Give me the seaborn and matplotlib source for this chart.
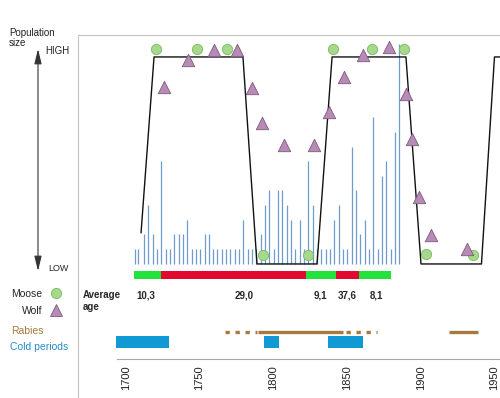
import matplotlib
matplotlib.use("Agg")
import matplotlib.pyplot as plt
import matplotlib.transforms as mtransforms
from matplotlib.lines import Line2D
import seaborn as sns

# ---- values ----
# population level: 0 = LOW, 100 = HIGH
trend_years = [1716.5, 1725.3, 1785.6, 1795.1, 1835.8, 1846.0, 1896.1, 1906.3, 1947.3, 1956.1, 1962.0]
trend_level = [15, 100, 100, 0, 0, 100, 100, 0, 0, 100, 100]

moose_years = [1726.6, 1754.4, 1774.8, 1799.2, 1829.7, 1846.6, 1873.1, 1894.8, 1909.7, 1941.6]
moose_level = [104, 104, 104, 4.3, 4.3, 104, 104, 104, 4.8, 4.3]

wolf_years = [1732.1, 1748.3, 1766.0, 1781.8, 1791.7, 1798.5, 1813.4, 1833.8, 1843.9,
              1854.1, 1867.0, 1884.6, 1896.1, 1900.2, 1905.0, 1913.1, 1937.5]
wolf_level = [85.5, 98.6, 103.4, 103.4, 85.0, 68.1, 57.5, 57.5, 73.4,
              90.3, 101.0, 104.8, 82.1, 60.4, 32.4, 14.0, 7.2]

spike_years = [1712.6, 1714.6, 1718.5, 1721.4, 1724.4, 1727.3, 1730.2, 1733.2, 1736.1, 1739.1,
               1742.0, 1745.0, 1747.9, 1750.8, 1753.8, 1756.7, 1759.6, 1762.4, 1765.3, 1768.2,
               1771.2, 1774.1, 1777.0, 1780.0, 1782.9, 1785.8, 1788.8, 1791.7, 1794.6, 1797.6,
               1800.5, 1803.5, 1806.4, 1809.4, 1812.3, 1815.3, 1818.2, 1821.1, 1824.1, 1827.0,
               1829.9, 1832.9, 1835.8, 1838.7, 1841.7, 1844.6, 1847.5, 1850.5, 1853.4, 1856.3,
               1859.3, 1862.2, 1865.2, 1868.1, 1871.1, 1874.0, 1877.0, 1879.9, 1882.8, 1885.8,
               1888.7, 1891.6]
spike_counts = [1, 1, 2, 4, 2, 1, 7, 1, 1, 2,
                2, 2, 3, 1, 1, 1, 2, 2, 1, 1,
                1, 1, 1, 1, 1, 3, 1, 1, 1, 2,
                4, 5, 1, 5, 5, 4, 3, 1, 3, 1,
                7, 4, 1, 1, 1, 1, 3, 4, 1, 1,
                8, 5, 2, 3, 1, 10, 1, 6, 7, 1,
                9, 15]

age_bounds = [1711.7, 1729.9, 1828.3, 1848.6, 1864.3, 1886.0]
age_phase = ["young", "old", "young", "old", "young"]
age_labels = ["10,3", "29,0", "9,1", "37,6", "8,1"]
age_label_years = [1719.9, 1786.3, 1838.2, 1856.1, 1876.1]

rabies_start = [1796.0, 1925.3]
rabies_end = [1853.6, 1944.7]
rabies_maybe_start = [1773.5, 1855.5]
rabies_maybe_end = [1795.1, 1876.5]

cold_start = [1699.3, 1800.1, 1843.1]
cold_end = [1735.5, 1810.0, 1866.8]

year_ticks = list(range(1700, 1960, 10))

# ---- style ----
sns.set_style("white")
plt.rcParams["font.family"] = ["Liberation Sans", "DejaVu Sans"]

MOOSE = "#a6d98b"
MOOSE_EDGE = "#7db761"
WOLF = "#b78bb6"
WOLF_EDGE = "#7d5a7c"
SPIKE = "#6d9dca"
PHASE_COL = {"young": "#22e33b", "old": "#e3082f"}
RABIES = "#a57a3c"
COLD = "#1199d5"
FRAME = "#c4c4c4"

W, H = 500, 398
fig = plt.figure(figsize=(5, 3.98), dpi=100)


def fx(px):
    return px / W


def fy(py):
    return 1 - py / H


# x range of the drawing area (years)
XMIN, XMAX = 1673.76, 1959.86

# frame: left and top grey lines
frame = fig.add_axes([fx(78), 0, 1 - fx(78), fy(35)])
frame.set_xticks([])
frame.set_yticks([])
frame.patch.set_visible(False)
for side in ["right", "bottom"]:
    frame.spines[side].set_visible(False)
for side in ["left", "top"]:
    frame.spines[side].set_color(FRAME)
    frame.spines[side].set_linewidth(0.8)

main_rect = [fx(78), fy(268.1), 1 - fx(78), (268.1 - 40.4) / H]

# spikes (counts)
ax_s = fig.add_axes(main_rect)
ax_s.set_xlim(XMIN, XMAX)
ax_s.set_ylim(-0.315, 15.28)
ax_s.axis("off")
ax_s.vlines(spike_years, 0, spike_counts, color=SPIKE, lw=0.9)

# population line and animals
ax = fig.add_axes(main_rect)
ax.set_xlim(XMIN, XMAX)
ax.set_ylim(-2, 108)
ax.axis("off")
sns.lineplot(x=trend_years, y=trend_level, sort=False, estimator=None,
             color="#111111", lw=1.0, ax=ax)
sns.scatterplot(x=moose_years, y=moose_level, marker="o", s=55, color=MOOSE,
                edgecolor=MOOSE_EDGE, linewidth=0.6, ax=ax, clip_on=False, zorder=3)
sns.scatterplot(x=wolf_years, y=wolf_level, marker="^", s=80, color=WOLF,
                edgecolor=WOLF_EDGE, linewidth=0.6, ax=ax, clip_on=False, zorder=3)

# lower strip: age classes, rabies, cold periods, year axis
low = fig.add_axes([fx(78), fy(359), 1 - fx(78), (359 - 268) / H])
low.set_xlim(XMIN, XMAX)
low.set_ylim(91, 0)
low.patch.set_visible(False)

AGE_ROW, AGE_H = 7, 8
LABEL_ROW = 27.5
RABIES_ROW = 63.5
COLD_ROW, COLD_H = 73.5, 12

starts = age_bounds[:-1]
widths = [b - a for a, b in zip(age_bounds[:-1], age_bounds[1:])]
low.barh(AGE_ROW, widths, left=starts, height=AGE_H,
         color=[PHASE_COL[p] for p in age_phase], linewidth=0)
for yr, lab in zip(age_label_years, age_labels):
    low.text(yr, LABEL_ROW, lab, ha="center", va="center", fontsize=7, fontweight="bold")

low.hlines([RABIES_ROW] * len(rabies_start), rabies_start, rabies_end, color=RABIES, lw=2.4)
low.hlines([RABIES_ROW] * len(rabies_maybe_start), rabies_maybe_start, rabies_maybe_end,
           color=RABIES, lw=2.4, linestyles=[(0, (1.3, 1.7))])

low.barh(COLD_ROW, [b - a for a, b in zip(cold_start, cold_end)], left=cold_start,
         height=COLD_H, color=COLD, linewidth=0)

for side in ["left", "right", "top"]:
    low.spines[side].set_visible(False)
low.spines["bottom"].set_color("#a8a8a8")
low.spines["bottom"].set_linewidth(0.8)
low.spines["bottom"].set_bounds(1700, XMAX)
low.set_yticks([])
low.set_xticks(year_ticks)
low.set_xticklabels([str(y) if y % 50 == 0 else "" for y in year_ticks],
                    fontsize=8, rotation=90, color="#222222")
low.tick_params(axis="x", direction="inout", length=4, width=0.6, color="#5a5a5a", pad=2.5)
shift = mtransforms.ScaledTranslation(9 / 100, 0, fig.dpi_scale_trans)
for t in low.xaxis.get_major_ticks():
    t.label1.set_transform(t.label1.get_transform() + shift)

# left-hand annotations
fig.text(fx(9), fy(33), "Population", va="center", ha="left", fontsize=7, color="#222222")
fig.text(fx(9), fy(43), "size", va="center", ha="left", fontsize=7, color="#222222")
fig.text(fx(45), fy(50.5), "HIGH", va="center", ha="left", fontsize=7, color="#222222")
fig.text(fx(48), fy(268.5), "LOW", va="center", ha="left", fontsize=6.5, color="#222222")
ax.annotate("", xy=(fx(38), fy(49)), xytext=(fx(38), fy(271)),
            xycoords="figure fraction", textcoords="figure fraction",
            arrowprops=dict(arrowstyle="<|-|>,head_length=0.9,head_width=0.22",
                            color="#333333", lw=0.8, shrinkA=0, shrinkB=0))

handles = [Line2D([], [], ls="", marker="o", ms=7.4, mfc=MOOSE, mec=MOOSE_EDGE, mew=0.6),
           Line2D([], [], ls="", marker="^", ms=8.8, mfc=WOLF, mec=WOLF_EDGE, mew=0.6)]
fig.legend(handles, ["Moose", "Wolf"], markerfirst=False, frameon=False, loc="upper left",
           bbox_to_anchor=(fx(11.5), fy(289)), fontsize=7.5, handlelength=1.0,
           handletextpad=0.8, labelspacing=0.65, borderpad=0, borderaxespad=0)
fig.text(fx(11.5), fy(331.5), "Rabies", va="center", ha="left", fontsize=7.5, color=RABIES)
fig.text(fx(9.5), fy(346.5), "Cold periods", va="center", ha="left", fontsize=7.5, color="#2b8ac8")
fig.text(fx(83), fy(289.5), "Average\nage", va="top", ha="left", fontsize=7, fontweight="bold",
         linespacing=1.25)

fig.savefig("out.png", dpi=100)
